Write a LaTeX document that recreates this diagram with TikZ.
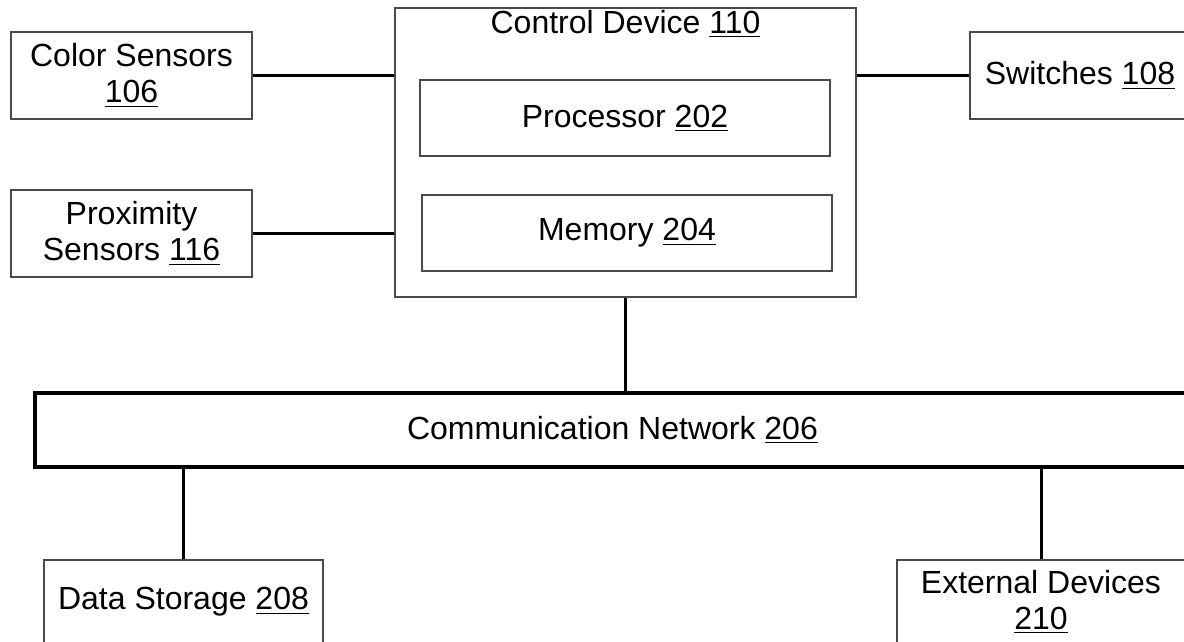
\documentclass[tikz,border=0pt]{standalone}
\usepackage{fontspec}
\setmainfont{Liberation Sans}
\usetikzlibrary{positioning}

\definecolor{boxgray}{HTML}{4A4A4A}

\tikzset{
    blk/.style={draw=boxgray, line width=1.4pt, fill=white, align=center, inner sep=0pt,
                font=\fontsize{16}{18}\selectfont},
    netbox/.style={blk, draw=black, line width=1.7pt},
    wire/.style={line width=1.5pt, black},
}

\begin{document}
\begin{tikzpicture}[x=0.5pt, y=-0.5pt]
            \path[use as bounding box, clip] (0,0) rectangle (1184,642); % crop as in the original sheet

            \node[blk, minimum width=120.5pt, minimum height=43.5pt] (colsens) at (131.5,75.5) {Color Sensors\\\underline{106}};
            \node[blk, minimum width=120.5pt, minimum height=43.5pt] (proxsens) at (131.5,233.5) {Proximity\\Sensors \underline{116}};

            \node[blk, minimum width=230.5pt, minimum height=144.5pt] (ctrl) at (625.5,152.5) {};
            \node[anchor=north, inner sep=1.5pt, font=\fontsize{16}{18}\selectfont] (ctrltitle) at (ctrl.north) {Control Device \underline{110}};
            \node[blk, minimum width=205pt, minimum height=38pt] (proc) at (625,118) {Processor \underline{202}};
            \node[blk, minimum width=205pt, minimum height=38pt] (mem) at (627,233) {Memory \underline{204}};

            \node[blk, minimum width=110pt, minimum height=43.5pt] (switch) at (1080,75.5) {Switches \underline{108}};

            \node[netbox, minimum width=577.5pt, minimum height=37pt] (net) at (612.5,430) {Communication Network \underline{206}};

            \node[blk, minimum width=139.5pt, minimum height=42pt] (store) at (183.5,602) {Data Storage \underline{208}};
            \node[blk, minimum width=144pt, minimum height=42pt] (extdev) at (1041,602) {External Devices\\\underline{210}};

            \draw[wire] (colsens.east) -- (colsens -| ctrl.west);
            \draw[wire] (proxsens.east) -- (proxsens -| ctrl.west);
            \draw[wire] (ctrl.east |- switch) -- (switch.west);
            \draw[wire] (ctrl.south) -- (ctrl.south |- net.north);
            \draw[wire] (store.north) -- (store.north |- net.south);
            \draw[wire] (extdev.north) -- (extdev.north |- net.south);
        \end{tikzpicture}
\end{document}
